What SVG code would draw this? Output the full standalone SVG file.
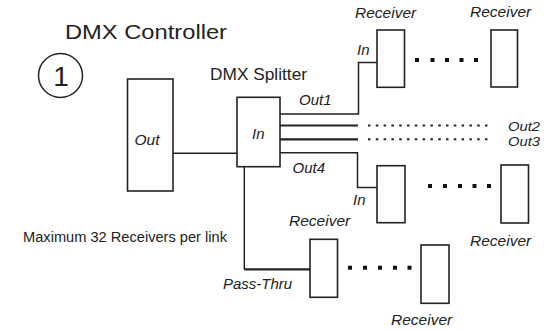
<svg xmlns="http://www.w3.org/2000/svg" width="544" height="331" viewBox="0 0 544 331">
<style>
.box{fill:#fff;stroke:#222;stroke-width:1.6}
.ln{fill:none;stroke:#222;stroke-width:1.5}
.thk{fill:none;stroke:#222;stroke-width:2.2}
.dot{fill:none;stroke:#222;stroke-width:2;stroke-dasharray:2.5 5.3}
.sq{fill:#111}
text{font-family:"Liberation Sans",Arial,sans-serif;fill:#222}
.it{font-style:italic}
</style>
<rect width="544" height="331" fill="#fff"/>
<text x="65" y="38.5" font-size="21" textLength="162" lengthAdjust="spacingAndGlyphs">DMX Controller</text>
<circle cx="60.5" cy="75.5" r="22" fill="none" stroke="#222" stroke-width="1.5"/>
<text x="61" y="85.5" font-size="28" text-anchor="middle">1</text>
<text x="210" y="80" font-size="16.5" textLength="97" lengthAdjust="spacingAndGlyphs">DMX Splitter</text>
<text x="23" y="242" font-size="14" textLength="204" lengthAdjust="spacingAndGlyphs">Maximum 32 Receivers per link</text>
<g id="connectors">
<path class="ln" d="M173 153.3H237"/>
<path class="ln" d="M280 114H358.5V62.5H377"/>
<path class="thk" d="M280 125.5H358"/>
<path class="thk" d="M280 139.3H358"/>
<path class="ln" d="M280 152.7H357.5V187.5H377"/>
<path class="dot" d="M368 125.5H491"/>
<path class="dot" d="M368 139.3H491"/>
<path class="ln" d="M244.3 166.7V269.3"/>
<path class="thk" d="M244.3 269.3H310"/>
<g class="sq">
<rect x="415" y="58" width="4" height="4"/><rect x="430.5" y="58" width="4" height="4"/><rect x="445" y="58" width="4" height="4"/><rect x="459.5" y="58" width="4" height="4"/><rect x="474" y="58" width="4" height="4"/>
<rect x="428" y="184" width="4" height="4"/><rect x="443" y="184" width="4" height="4"/><rect x="458" y="184" width="4" height="4"/><rect x="472.5" y="184" width="4" height="4"/><rect x="487" y="184" width="4" height="4"/>
<rect x="348" y="265.7" width="4" height="4"/><rect x="363" y="265.7" width="4" height="4"/><rect x="378" y="265.7" width="4" height="4"/><rect x="393" y="265.7" width="4" height="4"/><rect x="407.5" y="265.7" width="4" height="4"/>
</g>
</g>
<g id="controller">
<rect class="box" x="127.5" y="79" width="45.5" height="112"/>
<text class="it" x="134.5" y="145" font-size="15.5">Out</text>
</g>
<g id="splitter">
<rect class="box" x="237" y="97.3" width="43" height="69.4"/>
<text class="it" x="252" y="139.3" font-size="15">In</text>
<text class="it" x="299" y="105" font-size="15">Out1</text>
<text class="it" x="508" y="130.5" font-size="13" textLength="32" lengthAdjust="spacingAndGlyphs">Out2</text>
<text class="it" x="508" y="145.5" font-size="13" textLength="32" lengthAdjust="spacingAndGlyphs">Out3</text>
<text class="it" x="292.5" y="173" font-size="15">Out4</text>
<text class="it" x="223" y="288.5" font-size="15">Pass-Thru</text>
</g>
<g id="receiver1">
<rect class="box" x="377" y="30" width="27.5" height="57.3"/>
<text class="it" x="355" y="18" font-size="15.5">Receiver</text>
<text class="it" x="357" y="55" font-size="15">In</text>
</g>
<g id="receiver2">
<rect class="box" x="491" y="30" width="26.5" height="57"/>
<text class="it" x="470" y="17" font-size="15.5">Receiver</text>
</g>
<g id="receiver3">
<rect class="box" x="377" y="165.7" width="28" height="57"/>
<text class="it" x="353" y="205" font-size="15">In</text>
</g>
<g id="receiver4">
<rect class="box" x="501" y="165" width="27.5" height="58"/>
<text class="it" x="470" y="246" font-size="15.5">Receiver</text>
</g>
<g id="receiver5">
<rect class="box" x="310" y="239.3" width="27.5" height="58"/>
<text class="it" x="289" y="226" font-size="15.5">Receiver</text>
</g>
<g id="receiver6">
<rect class="box" x="421" y="245" width="28" height="58.3"/>
<text class="it" x="391" y="325" font-size="15.5">Receiver</text>
</g>
</svg>
